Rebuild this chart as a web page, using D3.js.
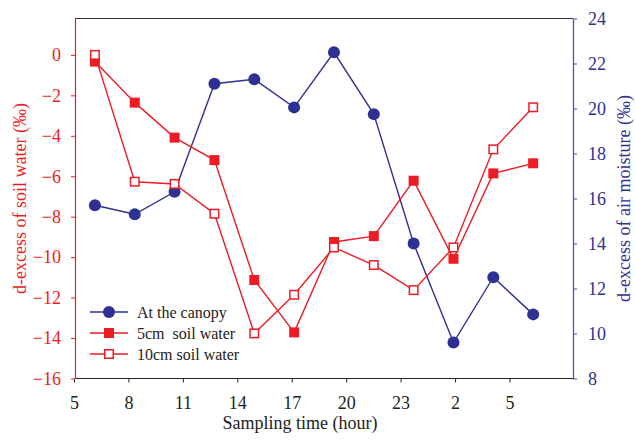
<!DOCTYPE html>
<html>
<head>
<meta charset="utf-8">
<script src="https://cdn.jsdelivr.net/npm/d3@7"></script>
<style>
  html, body { margin: 0; padding: 0; background: #fff; }
  svg { display: block; }
</style>
</head>
<body>
<svg id="chart" width="635" height="441"></svg>
<script>
// Sampling hours (every two hours, 06:00 to 04:00 next day, counted past midnight)
const sampleHours = [6, 8, 10, 12, 14, 16, 18, 20, 22, 24, 26, 28];
// d-excess of air moisture at the canopy (‰, right axis)
const canopy = [15.7, 15.3, 16.3, 21.1, 21.3, 20.05, 22.5, 19.75, 14.0, 9.6, 12.5, 10.85];
// d-excess of soil water (‰, left axis)
const soil5cm = [-0.33, -2.36, -4.09, -5.2, -11.13, -13.72, -9.25, -8.96, -6.22, -10.08, -5.86, -5.36];
const soil10cm = [0.0, -6.27, -6.38, -7.85, -13.77, -11.86, -9.52, -10.39, -11.63, -9.52, -4.67, -2.59];
// Axis ticks
const hourTicks = [5, 8, 11, 14, 17, 20, 23, 26, 29];
const hourTickLabels = ["5", "8", "11", "14", "17", "20", "23", "2", "5"];
const leftTicks = [0, -2, -4, -6, -8, -10, -12, -14, -16];
const rightTicks = [8, 10, 12, 14, 16, 18, 20, 22, 24];
const seriesNames = ["At the canopy", "5cm  soil water", "10cm soil water"];

const RED = "#ed1c24";
const BLUE = "#2e3192";
const BLUE_AXIS = "#464a9e";
const FONT = '"Liberation Serif", "Times New Roman", serif';

const svg = d3.select("#chart");
const m = { left: 75, right: 573, top: 18.5, bottom: 378.5 };

const x = d3.scaleLinear().domain([5, 30]).range([m.left, m.right]);
const xAxisScale = d3.scaleLinear().domain([5, 32.5]).range([m.left - 1, m.right]);
const yL = d3.scaleLinear().domain([-16, 1.8]).range([m.bottom, m.top]);
const yR = d3.scaleLinear().domain([8, 24]).range([m.bottom, m.top]);

// Frame top line
svg.append("line")
  .attr("x1", m.left).attr("x2", m.right)
  .attr("y1", m.top).attr("y2", m.top)
  .attr("stroke", "#333").attr("stroke-width", 1.2);

// Bottom axis
const gx = svg.append("g")
  .attr("transform", `translate(0,${m.bottom})`)
  .call(d3.axisBottom(xAxisScale).tickValues(hourTicks)
    .tickFormat((d, i) => hourTickLabels[i]).tickSize(4).tickPadding(13.5).tickSizeOuter(0));
gx.select(".domain").attr("stroke", "#222").attr("stroke-width", 1.2)
  .attr("d", `M${m.left},0H${m.right}`);
gx.selectAll(".tick line").attr("stroke", "#222");
gx.selectAll(".tick text").attr("fill", "#222").attr("font-size", 18)
  .style("font-family", FONT);

// Left axis
const gl = svg.append("g")
  .attr("transform", `translate(${m.left},0)`)
  .call(d3.axisLeft(yL).tickValues(leftTicks).tickSize(4).tickPadding(10).tickSizeOuter(0));
gl.select(".domain").attr("stroke", RED).attr("stroke-width", 1.2);
gl.selectAll(".tick line").attr("stroke", RED);
gl.selectAll(".tick text").attr("fill", RED).attr("font-size", 18)
  .style("font-family", FONT);

// Right axis
const gr = svg.append("g")
  .attr("transform", `translate(${m.right},0)`)
  .call(d3.axisRight(yR).tickValues(rightTicks).tickSize(4).tickPadding(11).tickSizeOuter(0));
gr.select(".domain").attr("stroke", BLUE_AXIS).attr("stroke-width", 1.2);
gr.selectAll(".tick line").attr("stroke", BLUE_AXIS);
gr.selectAll(".tick text").attr("fill", BLUE).attr("font-size", 18)
  .style("font-family", FONT);

// Axis titles
svg.append("text")
  .attr("x", 300).attr("y", 429)
  .attr("text-anchor", "middle").attr("font-size", 18).attr("fill", "#222")
  .style("font-family", FONT)
  .text("Sampling time (hour)");
svg.append("text")
  .attr("transform", `translate(26,${(m.top + m.bottom) / 2}) rotate(-90)`)
  .attr("text-anchor", "middle").attr("font-size", 18).attr("fill", RED)
  .style("font-family", FONT)
  .text("d-excess of soil water (‰)");
svg.append("text")
  .attr("transform", `translate(630,${(m.top + m.bottom) / 2}) rotate(-90)`)
  .attr("text-anchor", "middle").attr("font-size", 18).attr("fill", BLUE)
  .style("font-family", FONT)
  .text("d-excess of air moisture (‰)");

// Series
const lineL = d3.line().x((d, i) => x(sampleHours[i])).y(d => yL(d));
const lineR = d3.line().x((d, i) => x(sampleHours[i])).y(d => yR(d));

svg.append("path").datum(canopy).attr("d", lineR)
  .attr("fill", "none").attr("stroke", BLUE).attr("stroke-width", 1.4);
svg.selectAll("circle.canopy").data(canopy).join("circle")
  .attr("class", "canopy")
  .attr("cx", (d, i) => x(sampleHours[i])).attr("cy", d => yR(d))
  .attr("r", 6).attr("fill", BLUE);

const sq = 10;
svg.append("path").datum(soil5cm).attr("d", lineL)
  .attr("fill", "none").attr("stroke", RED).attr("stroke-width", 1.4);
svg.selectAll("rect.s5").data(soil5cm).join("rect")
  .attr("class", "s5")
  .attr("x", (d, i) => x(sampleHours[i]) - sq / 2).attr("y", d => yL(d) - sq / 2)
  .attr("width", sq).attr("height", sq).attr("fill", RED);

svg.append("path").datum(soil10cm).attr("d", lineL)
  .attr("fill", "none").attr("stroke", RED).attr("stroke-width", 1.4);
svg.selectAll("rect.s10").data(soil10cm).join("rect")
  .attr("class", "s10")
  .attr("x", (d, i) => x(sampleHours[i]) - (sq - 1.5) / 2).attr("y", d => yL(d) - (sq - 1.5) / 2)
  .attr("width", sq - 1.5).attr("height", sq - 1.5)
  .attr("fill", "#fff").attr("stroke", RED).attr("stroke-width", 1.5);

// Legend
const lg = svg.append("g").attr("transform", "translate(90,312)");
seriesNames.forEach((name, i) => {
  const row = lg.append("g").attr("transform", `translate(0,${i * 21})`);
  const color = i === 0 ? BLUE : RED;
  row.append("line").attr("x1", 0).attr("x2", 38).attr("y1", 0).attr("y2", 0)
    .attr("stroke", color).attr("stroke-width", 1.4);
  if (i === 0) {
    row.append("circle").attr("cx", 19).attr("cy", 0).attr("r", 6).attr("fill", BLUE);
  } else if (i === 1) {
    row.append("rect").attr("x", 14).attr("y", -5).attr("width", 10).attr("height", 10).attr("fill", RED);
  } else {
    row.append("rect").attr("x", 14.75).attr("y", -4.25).attr("width", 8.5).attr("height", 8.5)
      .attr("fill", "#fff").attr("stroke", RED).attr("stroke-width", 1.5);
  }
  row.append("text").attr("x", 47).attr("y", 5.5).attr("font-size", 16).attr("fill", "#222")
    .style("font-family", FONT).style("white-space", "pre")
    .text(name);
});
</script>
</body>
</html>
